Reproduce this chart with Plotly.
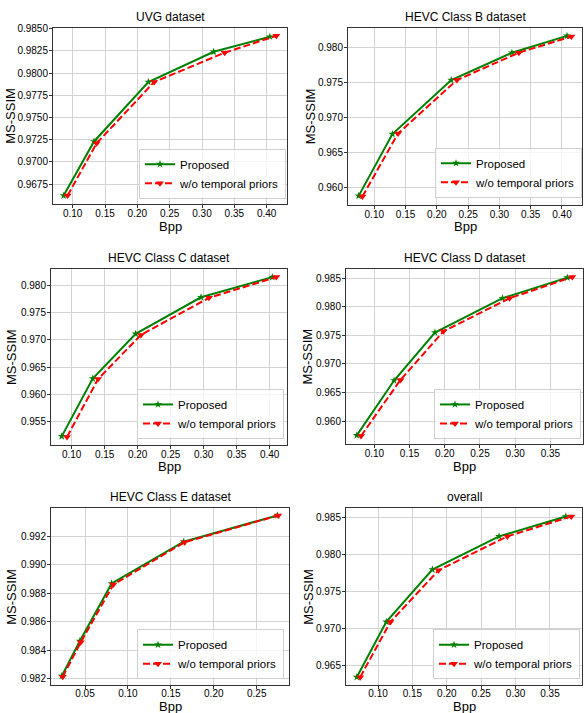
import plotly.graph_objects as go

# ---------------- data ----------------
titles = ["UVG dataset", "HEVC Class B dataset", "HEVC Class C dataset",
          "HEVC Class D dataset", "HEVC Class E dataset", "overall"]
x_label = "Bpp"
y_label = "MS-SSIM"

uvg_prop_x = [0.086, 0.133, 0.217, 0.318, 0.405]
uvg_prop_y = [0.9662, 0.9723, 0.9790, 0.9824, 0.9841]
uvg_wo_x = [0.092, 0.137, 0.226, 0.335, 0.415]
uvg_wo_y = [0.9662, 0.9721, 0.9790, 0.9823, 0.9842]

b_prop_x = [0.075, 0.129, 0.223, 0.320, 0.408]
b_prop_y = [0.9588, 0.9676, 0.9753, 0.9792, 0.9816]
b_wo_x = [0.081, 0.138, 0.232, 0.331, 0.415]
b_wo_y = [0.9587, 0.9677, 0.9753, 0.9792, 0.9815]

c_prop_x = [0.085, 0.132, 0.197, 0.296, 0.404]
c_prop_y = [0.9523, 0.9629, 0.9711, 0.9778, 0.9815]
c_wo_x = [0.093, 0.140, 0.205, 0.308, 0.410]
c_wo_y = [0.9522, 0.9628, 0.9709, 0.9777, 0.9815]

d_prop_x = [0.075, 0.128, 0.186, 0.282, 0.374]
d_prop_y = [0.9575, 0.9671, 0.9755, 0.9815, 0.9851]
d_wo_x = [0.081, 0.137, 0.198, 0.292, 0.381]
d_wo_y = [0.9574, 0.9672, 0.9757, 0.9815, 0.9852]

e_prop_x = [0.023, 0.044, 0.081, 0.165, 0.274]
e_prop_y = [0.98220, 0.98465, 0.98870, 0.99163, 0.99348]
e_wo_x = [0.024, 0.045, 0.083, 0.166, 0.275]
e_wo_y = [0.98214, 0.98456, 0.98862, 0.99160, 0.99348]

all_prop_x = [0.069, 0.112, 0.179, 0.276, 0.373]
all_prop_y = [0.9634, 0.9709, 0.9780, 0.9825, 0.9852]
all_wo_x = [0.074, 0.118, 0.188, 0.288, 0.381]
all_wo_y = [0.9634, 0.9709, 0.9779, 0.9825, 0.9852]

series = [
    (uvg_prop_x, uvg_prop_y, uvg_wo_x, uvg_wo_y),
    (b_prop_x, b_prop_y, b_wo_x, b_wo_y),
    (c_prop_x, c_prop_y, c_wo_x, c_wo_y),
    (d_prop_x, d_prop_y, d_wo_x, d_wo_y),
    (e_prop_x, e_prop_y, e_wo_x, e_wo_y),
    (all_prop_x, all_prop_y, all_wo_x, all_wo_y),
]

y_dticks = [0.0025, 0.005, 0.005, 0.005, 0.002, 0.005]
y_formats = [".4f", ".3f", ".3f", ".3f", ".3f", ".3f"]
# explicit y ranges where the reference's axis ends just short of a tick
y_range_override = {4: [0.98155, 0.99397]}

# ---------------- layout geometry (pixels) ----------------
W, H = 586, 713
# plot areas: (left, right, top, bottom) in pixels
boxes = [
    (53, 287, 23, 200),
    (348, 582, 23, 201),
    (51, 287, 266, 443),
    (346, 583, 266, 442),
    (51, 289, 507, 685),
    (346, 582, 507, 685),
]
# axis-title positions: (x of MS-SSIM centre, y of Bpp centre) in pixels
label_pos = [(11, 223), (310, 223), (11, 465), (308, 465), (12, 706), (309, 706)]
# x tick label standoff per panel
x_standoff = [-3, -3, -3, -3, -4, -4]
# legend boxes: (right, bottom) in pixels
legpos = [
    (286, 195), (582, 194), (284, 437), (581, 437), (284, 679), (580, 679)
]

FONT = "Liberation Sans, Arial, sans-serif"
fig = go.Figure()
layout = dict(
    width=W, height=H,
    margin=dict(l=0, r=0, t=0, b=0),
    paper_bgcolor="white", plot_bgcolor="white",
    font=dict(family=FONT, color="black", size=10),
    annotations=[],
)


def rng(a, b, frac=0.05):
    lo, hi = min(a + b), max(a + b)
    pad = (hi - lo) * frac
    return [lo - pad, hi + pad]


for i, (px, py, wx, wy) in enumerate(series):
    k = i + 1
    xs = "" if k == 1 else str(k)
    leg = "legend" if k == 1 else f"legend{k}"
    fig.add_trace(go.Scatter(
        x=px, y=py, mode="lines+markers", name="Proposed",
        line=dict(color="#008000", width=2),
        marker=dict(symbol="star", size=6, color="#008000"),
        xaxis="x" + xs, yaxis="y" + xs, legend=leg,
    ))
    fig.add_trace(go.Scatter(
        x=wx, y=wy, mode="lines+markers", name="w/o temporal priors",
        line=dict(color="#ff0000", width=2, dash="7px,3px"),
        marker=dict(symbol="triangle-down", size=7, color="#ff0000"),
        xaxis="x" + xs, yaxis="y" + xs, legend=leg,
    ))
    l, r, t, b = boxes[i]
    axcommon = dict(
        showline=True, linecolor="#333333", linewidth=1, mirror=True,
        showgrid=True, gridcolor="#d3d3d3", gridwidth=1,
        ticks="outside", ticklen=3, tickcolor="#333333",
        tickfont=dict(size=10, family=FONT, color="black"),
        zeroline=False,
    )
    layout["xaxis" + xs] = dict(
        axcommon, domain=[l / W, r / W], anchor="y" + xs,
        range=rng(px, wx), dtick=0.05, tick0=0, tickformat=".2f",
        ticklabelstandoff=x_standoff[i],
    )
    layout["yaxis" + xs] = dict(
        axcommon, domain=[1 - b / H, 1 - t / H], anchor="x" + xs,
        range=y_range_override.get(i, rng(py, wy)),
        dtick=y_dticks[i], tick0=0, tickformat=y_formats[i],
        ticklabelstandoff=-1,
    )
    layout["annotations"].append(dict(
        text=titles[i], xref="paper", yref="paper",
        x=(l + r) / 2 / W, y=1 - (t - 2) / H, xanchor="center", yanchor="bottom",
        showarrow=False, font=dict(size=12, family=FONT, color="black"),
    ))
    mx, by = label_pos[i]
    layout["annotations"].append(dict(
        text=x_label, xref="paper", yref="paper",
        x=(l + r) / 2 / W, y=1 - by / H, xanchor="center", yanchor="middle",
        showarrow=False, font=dict(size=13, family=FONT, color="black"),
    ))
    layout["annotations"].append(dict(
        text=y_label, xref="paper", yref="paper", textangle=-90,
        x=mx / W, y=1 - (t + b) / 2 / H, xanchor="center", yanchor="middle",
        showarrow=False, font=dict(size=13, family=FONT, color="black"),
    ))
    lr, lb = legpos[i]
    layout[leg] = dict(
        x=lr / W, y=1 - lb / H, xanchor="right", yanchor="bottom",
        xref="paper", yref="paper",
        bgcolor="rgba(255,255,255,0.8)", bordercolor="#d0d0d0", borderwidth=1,
        font=dict(size=11.5, family=FONT, color="black"),
        tracegroupgap=0, itemwidth=30,
    )

fig.update_layout(**layout)
fig.write_html(
    "out.html",
    config={"displayModeBar": False},
    post_script="document.body.style.margin='0';document.body.style.overflow='hidden';",
)
